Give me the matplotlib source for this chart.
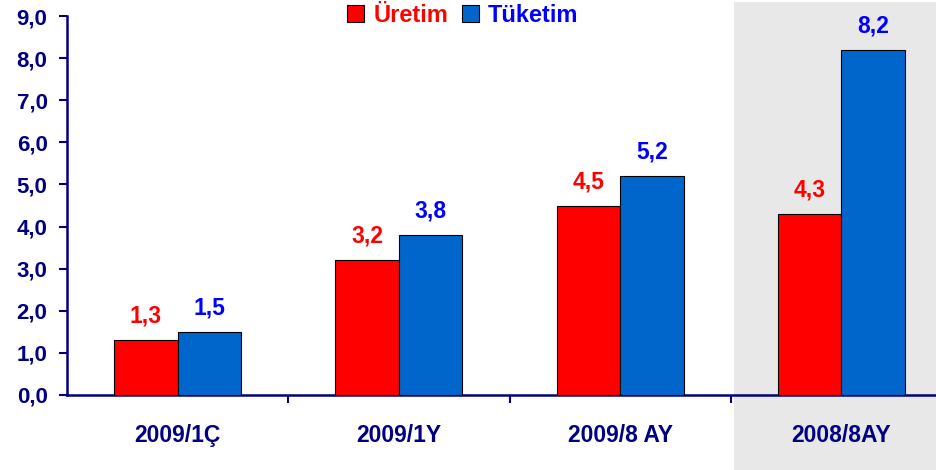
import matplotlib
matplotlib.use("Agg")
import matplotlib.pyplot as plt
from matplotlib.patches import Rectangle
from matplotlib.ticker import FuncFormatter
import numpy as np

categories = ["2009/1Ç", "2009/1Y", "2009/8 AY", "2008/8AY"]
uretim = [1.3, 3.2, 4.5, 4.3]
tuketim = [1.5, 3.8, 5.2, 8.2]
series_names = ["Üretim", "Tüketim"]

plt.rcParams['font.family'] = ['Liberation Sans', 'DejaVu Sans']
navy = "#000080"

fig = plt.figure(figsize=(9.37, 4.70), dpi=100)
# shaded background for the last group
fig.patches.append(Rectangle((734/937, 0), 1 - 734/937, 1 - 2/470,
                             transform=fig.transFigure, facecolor="#E8E8E8",
                             edgecolor="none", zorder=-5))

ax = fig.add_axes([67/937, 75/470, 885/937, 379/470])
ax.set_zorder(1)
ax.patch.set_alpha(0)

x = np.arange(len(categories))
w = 0.287
b1 = ax.bar(x - w/2, uretim, w, color="#FF0000", edgecolor="black", linewidth=0.8, label=series_names[0], zorder=3)
b2 = ax.bar(x + w/2, tuketim, w, color="#0066CC", edgecolor="black", linewidth=0.8, label=series_names[1], zorder=3)

fmt = lambda v: f"{v:.1f}".replace(".", ",")
for rect, v in zip(b1, uretim):
    ax.annotate(fmt(v), (rect.get_x() + rect.get_width()/2, v), xytext=(0, 9),
                textcoords="offset points", ha="center", va="bottom",
                color="#FF0000", fontsize=16.5, fontweight="bold")
for rect, v in zip(b2, tuketim):
    ax.annotate(fmt(v), (rect.get_x() + rect.get_width()/2, v), xytext=(0, 9),
                textcoords="offset points", ha="center", va="bottom",
                color="#0000FF", fontsize=16.5, fontweight="bold")

ax.set_xlim(-0.5, 3.5)
ax.set_ylim(0, 9)
ax.set_yticks(np.arange(0, 9.1, 1))
ax.yaxis.set_major_formatter(FuncFormatter(lambda v, p: fmt(v)))
ax.set_xticks(x)
ax.set_xticklabels(categories)
ax.set_xticks([0.5, 1.5, 2.5], minor=True)
ax.tick_params(axis="x", which="major", length=0, pad=21, labelsize=16.5, labelcolor=navy)
ax.tick_params(axis="x", which="minor", length=6, width=1.5, color=navy, direction="out")
ax.tick_params(axis="y", length=6, width=1.5, color=navy, labelsize=16, labelcolor=navy, pad=8)
for lab in ax.get_xticklabels() + ax.get_yticklabels():
    lab.set_fontweight("bold")

for s in ["top", "right"]:
    ax.spines[s].set_visible(False)
for s in ["left", "bottom"]:
    ax.spines[s].set_color(navy)
    ax.spines[s].set_linewidth(1.8)

leg = fig.legend(handles=[b1, b2], loc="center", bbox_to_anchor=(463/937, 1 - 15/470),
                 ncol=2, frameon=False, prop={"weight": "bold", "size": 17},
                 handlelength=0.7, handleheight=0.7, handletextpad=0.4, columnspacing=0.6,
                 borderpad=0)
for t, c in zip(leg.get_texts(), ["#FF0000", "#0000FF"]):
    t.set_color(c)

fig.savefig("out.png", dpi=100)
